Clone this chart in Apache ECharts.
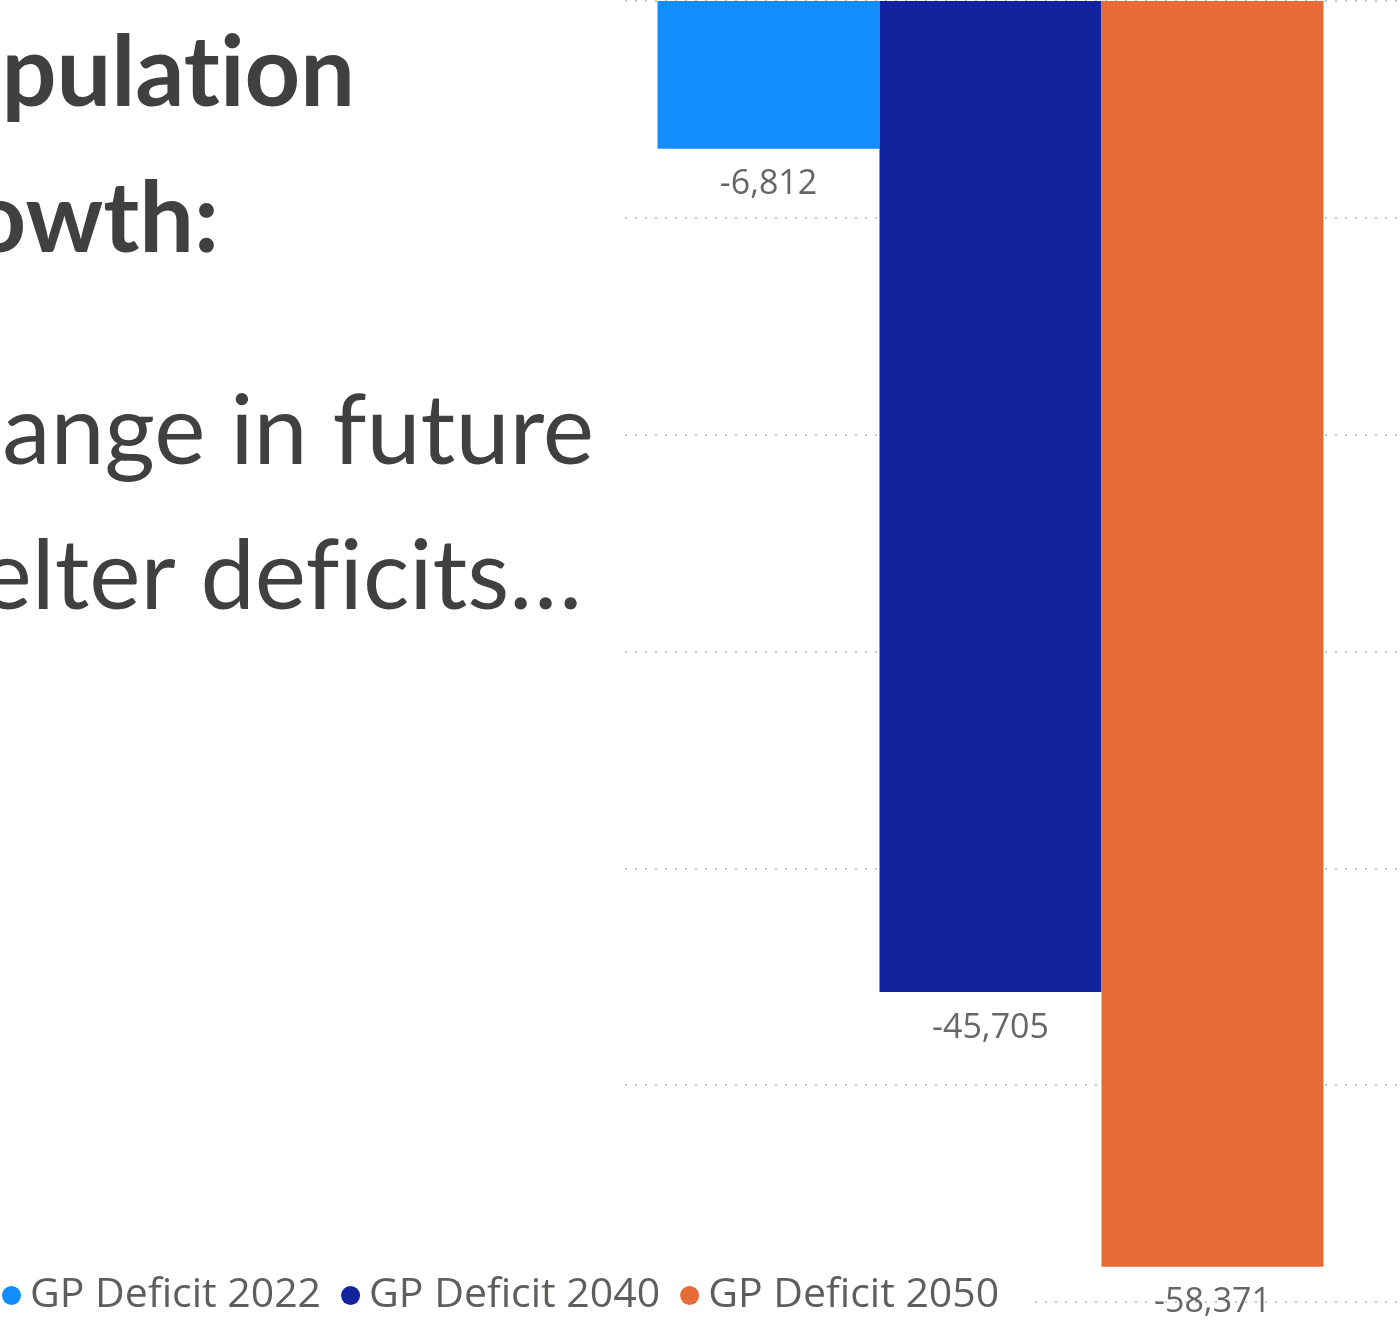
<!DOCTYPE html>
<html>
<head>
<meta charset="utf-8">
<script src="https://cdn.jsdelivr.net/npm/echarts@6/dist/echarts.min.js"></script>
<style>
html,body{margin:0;padding:0;background:#fff;}
#chart{width:1400px;height:1320px;}
</style>
</head>
<body>
<div id="chart"></div>
<script>
const categories = ['GP Deficit'];
const seriesNames = ['GP Deficit 2022', 'GP Deficit 2040', 'GP Deficit 2050'];
const deficit2022 = [-6812];
const deficit2040 = [-45705];
const deficit2050 = [-58371];
const seriesColors = ['#118DFF', '#12239E', '#E66C37'];
const yMin = -60000, yMax = 0, yInterval = 10000;
// zero-width non-joiners keep the font from forming ti / fi ligatures
const headingLines = ['Populat\u200Cion', 'growth:'];
const bodyLines = ['Change in future', 'shelter def\u200Cicits…'];

const chart = echarts.init(document.getElementById('chart'), null, {renderer: 'canvas'});
const seriesData = [deficit2022, deficit2040, deficit2050];
const fmt = v => Number(v).toLocaleString('en-US');

const textColor = '#404040';
const headFont = 'Lato, "Open Sans", sans-serif';
const headSize = 97;
const mid = b => b - 0.33 * headSize;

const option = {
  animation: false,
  backgroundColor: '#ffffff',
  graphic: [
    {type: 'text', x: 355, y: mid(107), style: {text: headingLines[0], align: 'right', verticalAlign: 'middle', fill: textColor, font: 'bold ' + headSize + 'px ' + headFont}},
    {type: 'text', x: 219, y: mid(253), style: {text: headingLines[1], align: 'right', verticalAlign: 'middle', fill: textColor, font: 'bold ' + headSize + 'px ' + headFont}},
    {type: 'text', x: 594, y: mid(465), style: {text: bodyLines[0], align: 'right', verticalAlign: 'middle', fill: textColor, font: 'normal ' + headSize + 'px ' + headFont}},
    {type: 'text', x: 582, y: mid(610), style: {text: bodyLines[1], align: 'right', verticalAlign: 'middle', fill: textColor, font: 'normal ' + headSize + 'px ' + headFont}}
  ],
  legend: {
    data: seriesNames,
    left: 0,
    top: 1271,
    icon: 'circle',
    itemWidth: 19,
    itemHeight: 19,
    itemGap: 20,
    backgroundColor: '#ffffff',
    padding: [4, 28, 4, 2],
    textStyle: {fontSize: 41, color: '#605E5C', fontFamily: '"Open Sans", sans-serif', padding: [0, 0, 0, 4]}
  },
  grid: [
    {left: 625, right: 44, top: 1, bottom: 18},
    {left: 625, right: 0, top: 1, bottom: 18}
  ],
  xAxis: [
    {type: 'category', gridIndex: 0, data: categories, show: false},
    {type: 'category', gridIndex: 1, data: categories, show: false}
  ],
  yAxis: [
    {type: 'value', gridIndex: 0, min: yMin, max: yMax, interval: yInterval, show: false, splitLine: {show: false}},
    {type: 'value', gridIndex: 1, min: yMin, max: yMax, interval: yInterval,
      axisLabel: {show: false}, axisLine: {show: false}, axisTick: {show: false},
      splitLine: {show: true, lineStyle: {color: '#c6c6c6', width: 2, type: [2, 8]}}}
  ],
  series: seriesNames.map((name, i) => ({
    name: name,
    type: 'bar',
    xAxisIndex: 0,
    yAxisIndex: 0,
    data: seriesData[i],
    barWidth: 222,
    barGap: '0%',
    itemStyle: {color: seriesColors[i]},
    label: {
      show: true,
      position: 'bottom',
      distance: 19,
      fontSize: 34,
      color: '#666666',
      fontFamily: '"Open Sans", sans-serif',
      formatter: p => fmt(p.value)
    }
  }))
};
chart.setOption(option);
</script>
</body>
</html>
